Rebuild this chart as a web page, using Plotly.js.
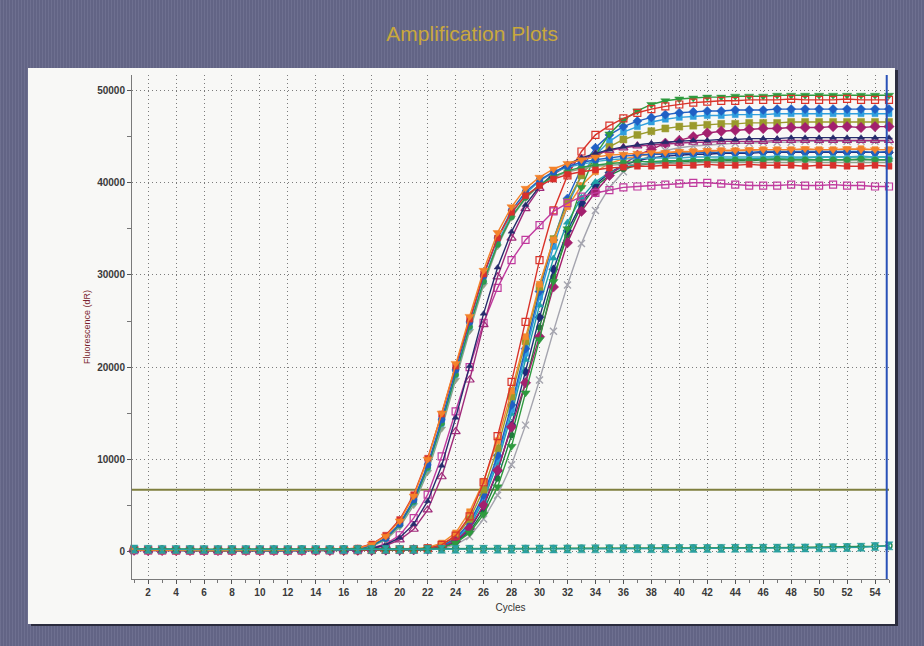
<!DOCTYPE html>
<html>
<head>
<meta charset="utf-8">
<script src="https://cdn.plot.ly/plotly-3.0.1.min.js"></script>
<style>
  html, body { margin: 0; padding: 0; }
  body {
    width: 924px; height: 646px; overflow: hidden; position: relative;
    background-color: #66688a;
    background-image: repeating-linear-gradient(90deg, rgba(255,255,255,0.05) 0px, rgba(255,255,255,0.05) 1px, rgba(0,0,0,0.04) 1px, rgba(0,0,0,0.04) 3px);
  }
  #panel {
    position: absolute; left: 28px; top: 68px; width: 867px; height: 556px;
    background: #f8f8f6;
    box-shadow: 3px 2px 0 #2b2c3e;
  }
  #chart { position: absolute; left: 0; top: 0; width: 924px; height: 646px; }
</style>
</head>
<body>
<div id="panel"></div>
<div id="chart"></div>
<script>
// PCR cycle numbers
const cycles = [1,2,3,4,5,6,7,8,9,10,11,12,13,14,15,16,17,18,19,20,21,22,23,24,25,26,27,28,29,30,31,32,33,34,35,36,37,38,39,40,41,42,43,44,45,46,47,48,49,50,51,52,53,54,55];

// Early-amplifying wells (fluorescence dR per cycle)
const orangeTriA = [150,120,110,100,110,100,90,100,110,100, 110,120,130,150,180,220,330,750,1650,3300, 6000,10000,15000,20400,25500,30500,34600,37400,39400,40600, 41500,42100,42500,42800,43000,43100,43200,43300,43300,43400, 43400,43500,43500,43500,43600,43600,43600,43600,43700,43600, 43600,43700,43600,43600,43600];
const redSquareA = [180,150,130,120,120,110,110,120,110,120, 120,130,140,160,190,240,360,800,1750,3450, 6150,10100,14900,20100,25200,30100,34000,36800,38600,39700, 40400,40900,41200,41400,41600,41700,41800,41800,41900,41900, 41900,42000,41900,41900,42000,41900,41900,41900,41800,41900, 41900,41800,41800,41900,41800];
const blueCircleA = [140,130,120,110,100,100,110,100,100,110, 110,120,130,140,170,200,290,650,1450,3000, 5600,9400,14300,19700,24900,29900,34000,37000,39000,40300, 41200,41800,42200,42500,42700,42900,43000,43100,43100,43200, 43200,43300,43300,43300,43300,43400,43400,43400,43400,43400, 43400,43400,43400,43300,43400];
const greenCircleA = [130,120,120,110,110,100,100,110,100,100, 100,110,120,130,160,190,270,610,1400,2900, 5400,9100,13900,19200,24400,29300,33300,36300,38400,39800, 40700,41300,41700,41900,42100,42200,42300,42300,42400,42400, 42400,42500,42500,42500,42500,42500,42600,42500,42500,42500, 42500,42500,42600,42500,42500];
const tealCircleA = [120,110,110,100,100,100,90,100,100,100, 100,100,110,130,150,180,260,590,1350,2850, 5300,9000,13800,19100,24300,29300,33500,36600,38800,40200, 41100,41700,42000,42300,42500,42600,42600,42700,42700,42700, 42800,42800,42800,42800,42800,42800,42900,42800,42800,42800, 42800,42800,42900,42800,42800];
const grayTriA = [110,100,100,100,90,90,100,100,90,100, 100,100,110,120,140,170,230,530,1250,2650, 5000,8600,13300,18600,23900,28900,33100,36200,38300,39700, 40600,41200,41500,41800,41900,42000,42000,42100,42100,42100, 42200,42200,42200,42200,42200,42200,42200,42200,42300,42200, 42200,42200,42200,42200,42200];
const magentaOpenSquareA = [120,110,100,100,100,90,90,100,100,100, 100,100,110,120,130,150,180,370,820,1750, 3600,6150,10300,15200,20000,24800,28600,31600,33800,35400, 36900,37800,38500,38900,39200,39500,39600,39700,39800,39900, 40000,40000,39900,39800,39700,39700,39700,39800,39700,39700, 39800,39700,39700,39600,39600];
const purpleOpenTriA = [100,100,90,90,100,90,90,90,100,90, 90,100,100,110,120,140,170,290,620,1250, 2400,4500,8100,13000,18600,24600,29800,34000,37200,39400, 40900,41900,42600,43100,43500,43800,44000,44100,44200,44300, 44400,44400,44500,44500,44500,44500,44600,44600,44600,44600, 44600,44600,44600,44600,44600];
const navyTriA = [110,100,100,90,90,100,90,90,100,100, 100,100,110,120,130,150,190,330,720,1480, 2950,5450,9300,14500,20100,25800,30800,34700,37600,39600, 41000,42000,42700,43200,43600,43900,44100,44300,44400,44500, 44600,44600,44700,44700,44800,44800,44800,44900,44900,44900, 44900,44900,44900,44900,44900];

// Later-amplifying wells
const redOpenSquareB = [150,130,120,110,110,100,100,110,100,100, 100,110,110,120,120,130,140,150,170,190, 220,320,700,1700,3800,7500,12500,18400,24900,31600, 37000,40800,43400,45200,46200,47000,47600,48000,48300,48500, 48700,48800,48900,48900,49000,49000,49000,49100,49000,49000, 49000,49100,49000,49000,49000];
const orangeSquareB = [160,140,130,120,110,110,100,100,110,100, 110,110,120,120,130,140,150,170,190,220, 260,420,900,2000,4300,7600,12000,17400,23300,29000, 33800,37400,39700,41200,42100,42600,42900,43100,43200,43300, 43400,43400,43500,43500,43500,43600,43600,43600,43600,43600, 43600,43600,43700,43600,43600];
const oliveSquareB = [130,120,110,110,100,100,100,100,100,100, 100,100,110,110,120,120,130,140,160,180, 210,310,700,1600,3500,6700,11200,16800,22800,28700, 33900,37900,40800,42700,43900,44700,45200,45600,45900,46100, 46200,46300,46400,46400,46500,46500,46500,46600,46600,46600, 46600,46600,46600,46600,46600];
const blueDiamondB = [140,120,110,100,100,100,100,90,100,100, 100,100,100,110,110,120,130,140,150,170, 200,280,600,1400,3100,6100,10400,15900,22000,28200, 33800,38300,41600,43800,45200,46100,46700,47100,47400,47600, 47700,47800,47800,47900,47900,47900,48000,48000,48000,48000, 48000,48000,48000,48000,48000];
const lightBlueSquareB = [130,110,100,100,100,90,100,100,90,100, 100,100,100,110,110,120,120,130,150,170, 190,260,560,1300,2900,5800,10000,15400,21500,27600, 33100,37500,40800,43000,44500,45500,46100,46600,46900,47100, 47200,47300,47300,47400,47400,47400,47500,47500,47500,47500, 47500,47500,47500,47500,47500];
const tealTriB = [120,110,100,100,90,90,100,90,90,100, 100,100,100,100,110,110,120,130,140,160, 180,250,520,1200,2700,5500,9600,14900,20800,26700, 31800,35700,38400,40100,41100,41700,42000,42200,42300,42400, 42500,42500,42600,42600,42600,42700,42700,42700,42700,42800, 42800,42800,42800,42800,42800];
const magentaDiamondB = [110,100,100,100,90,90,90,100,90,90, 90,100,100,100,100,110,110,120,140,150, 170,220,480,1100,2500,5000,8800,13500,18300,23300, 28700,33500,36900,39000,40800,42000,43000,43600,44300,44600, 45000,45400,45600,45700,45800,45900,45900,46000,46000,46000, 46100,46100,46000,46100,46100];
const navyDiamondB = [120,110,100,100,100,90,90,90,100,90, 90,90,100,100,100,110,110,120,130,150, 170,200,450,1050,2400,4900,8700,13700,19500,25400, 30600,34800,37800,39800,41100,41900,42400,42700,42900,43000, 43100,43100,43200,43200,43200,43300,43300,43300,43300,43300, 43300,43300,43300,43300,43300];
const greenTriDownB = [140,120,110,100,100,100,100,100,90,100, 100,100,100,100,110,110,120,130,140,150, 170,200,400,900,2000,4000,7000,11400,17200,23000, 29300,35000,39500,43000,45300,46800,47800,48500,48900,49100, 49200,49300,49300,49400,49400,49400,49500,49500,49500,49500, 49500,49500,49500,49500,49500];
const darkGreenCircleB = [130,110,100,100,100,90,90,100,90,90, 90,90,100,100,100,110,110,120,130,150, 170,190,420,950,2150,4400,7900,12600,18300,24300, 29800,34300,37500,39600,40800,41500,41900,42100,42200,42300, 42300,42400,42400,42400,42400,42500,42500,42500,42500,42500, 42500,42500,42500,42500,42500];
const grayCrossB = [100,90,90,90,90,80,90,90,80,90, 90,90,90,100,100,100,110,110,120,130, 140,150,300,700,1600,3500,6100,9400,13700,18600, 23900,28900,33400,37000,39500,41200,42300,43000,43500,43800, 44000,44100,44200,44300,44300,44400,44400,44400,44500,44500, 44500,44500,44500,44500,44500];

// No-template controls
const ntcTeal = [250,220,210,200,200,190,190,200,190,200, 200,190,200,200,190,200,200,190,200,200, 210,210,220,220,230,230,240,240,250,250, 260,260,270,270,280,280,290,290,300,300, 310,310,320,330,330,340,350,360,370,380, 400,420,450,520,600];
const ntcGreen = [300,270,260,250,250,240,240,250,240,240, 240,240,250,240,250,250,250,260,260,270, 270,280,280,290,290,300,300,310,310,320, 320,330,330,340,340,350,350,360,360,370, 370,380,380,390,390,400,410,420,430,440, 450,470,500,560,620];

// Threshold fluorescence
const thresholdLevel = 6700;

// Axis ticks
const xTickVals = [2,4,6,8,10,12,14,16,18,20,22,24,26,28,30,32,34,36,38,40,42,44,46,48,50,52,54];
const yTickVals = [0,10000,20000,30000,40000,50000];

const series = [
  { y: grayCrossB,        color: '#a4a4ae', symbol: 'x-thin-open', size: 7, lw: 1.4 },
  { y: darkGreenCircleB,  color: '#1f7a3c', symbol: 'circle',       size: 6 },
  { y: navyDiamondB,      color: '#1e2a78', symbol: 'diamond',      size: 7 },
  { y: tealTriB,          color: '#1fa0a8', symbol: 'triangle-up',  size: 7 },
  { y: lightBlueSquareB,  color: '#2f9ede', symbol: 'square',       size: 6 },
  { y: blueDiamondB,      color: '#1f5fc4', symbol: 'diamond',      size: 7 },
  { y: oliveSquareB,      color: '#9a9a2c', symbol: 'square',       size: 7 },
  { y: magentaDiamondB,   color: '#a3206e', symbol: 'diamond',      size: 8 },
  { y: orangeSquareB,     color: '#f28a2e', symbol: 'square',       size: 6 },
  { y: greenTriDownB,     color: '#2e9a3e', symbol: 'triangle-down',size: 8 },
  { y: redOpenSquareB,    color: '#d9332a', symbol: 'square-open',  size: 7, lw: 1.2 },
  { y: magentaOpenSquareA,color: '#c03a9e', symbol: 'square-open',  size: 7, lw: 1.2 },
  { y: purpleOpenTriA,    color: '#a02a7a', symbol: 'triangle-up-open', size: 8, lw: 1.2 },
  { y: navyTriA,          color: '#262c6c', symbol: 'triangle-up',  size: 6 },
  { y: grayTriA,          color: '#8fa08a', symbol: 'triangle-down',size: 7 },
  { y: tealCircleA,       color: '#3aa8c8', symbol: 'circle',       size: 6 },
  { y: greenCircleA,      color: '#2f9a4a', symbol: 'circle',       size: 6 },
  { y: blueCircleA,       color: '#2060c0', symbol: 'circle',       size: 7 },
  { y: redSquareA,        color: '#d8302c', symbol: 'square',       size: 6 },
  { y: orangeTriA,        color: '#f4822a', symbol: 'triangle-down',size: 8 },
  { y: ntcGreen,          color: '#2a8a48', symbol: 'circle-open',  size: 6, lw: 1.4 },
  { y: ntcTeal,           color: '#2aa0a0', symbol: 'hourglass',    size: 8 }
];

const traces = series.map(s => ({
  x: cycles,
  y: s.y,
  type: 'scatter',
  mode: 'lines+markers',
  line: { color: s.color, width: 1.4 },
  marker: {
    symbol: s.symbol, size: s.size, color: s.color,
    line: { color: s.color, width: s.lw || 0.5 }
  },
  cliponaxis: false,
  hoverinfo: 'skip'
}));

const tickFont = { family: 'Liberation Sans, Arial, sans-serif', size: 10, color: '#3a3a3a', weight: 'bold' };

const layout = {
  width: 924, height: 646,
  margin: { l: 132, r: 35, t: 75, b: 67 },
  paper_bgcolor: 'rgba(0,0,0,0)',
  plot_bgcolor: 'rgba(0,0,0,0)',
  showlegend: false,
  title: {
    text: 'Amplification Plots',
    font: { family: 'Liberation Sans, Arial, sans-serif', size: 21, color: '#c9a83c' },
    x: 0.511, xanchor: 'center', xref: 'container',
    y: 1 - 34 / 646, yanchor: 'middle', yref: 'container'
  },
  xaxis: {
    range: [0.85, 55],
    tickmode: 'array', tickvals: xTickVals,
    ticks: 'outside', ticklen: 4, tickcolor: '#555', tickwidth: 1,
    minor: { dtick: 1, tick0: 1, ticks: 'outside', ticklen: 3, tickcolor: '#777', showgrid: false },
    showgrid: true, gridcolor: '#7c7c7c', griddash: '1px,3px', gridwidth: 1,
    showline: true, linecolor: '#7a7a7a', linewidth: 1,
    zeroline: false,
    tickfont: tickFont,
    title: { text: 'Cycles', font: { family: 'Liberation Sans, Arial, sans-serif', size: 10, color: '#333' }, standoff: 6 },
    automargin: false
  },
  yaxis: {
    range: [-3000, 51700],
    tickmode: 'array', tickvals: yTickVals, tickformat: 'd',
    ticks: 'outside', ticklen: 4, tickcolor: '#555', tickwidth: 1,
    minor: { dtick: 5000, tick0: 0, ticks: 'outside', ticklen: 4, tickcolor: '#777', showgrid: false },
    showgrid: true, gridcolor: '#7c7c7c', griddash: '1px,3px', gridwidth: 1,
    showline: true, linecolor: '#7a7a7a', linewidth: 1,
    zeroline: false,
    tickfont: tickFont,
    title: { text: 'Fluorescence (dR)', font: { family: 'Liberation Sans, Arial, sans-serif', size: 9, color: '#7a1f2e' }, standoff: 5 },
    automargin: false
  },
  shapes: [
    { type: 'line', xref: 'paper', yref: 'y', x0: 0, x1: 1, y0: thresholdLevel, y1: thresholdLevel,
      line: { color: '#7f7f3e', width: 2 }, layer: 'below' },
    { type: 'line', xref: 'paper', yref: 'paper', x0: 0.997, x1: 0.997, y0: 0, y1: 1,
      line: { color: '#2a52b8', width: 2 }, layer: 'above' }
  ]
};

Plotly.newPlot('chart', traces, layout, { staticPlot: true, displayModeBar: false });
</script>
</body>
</html>
